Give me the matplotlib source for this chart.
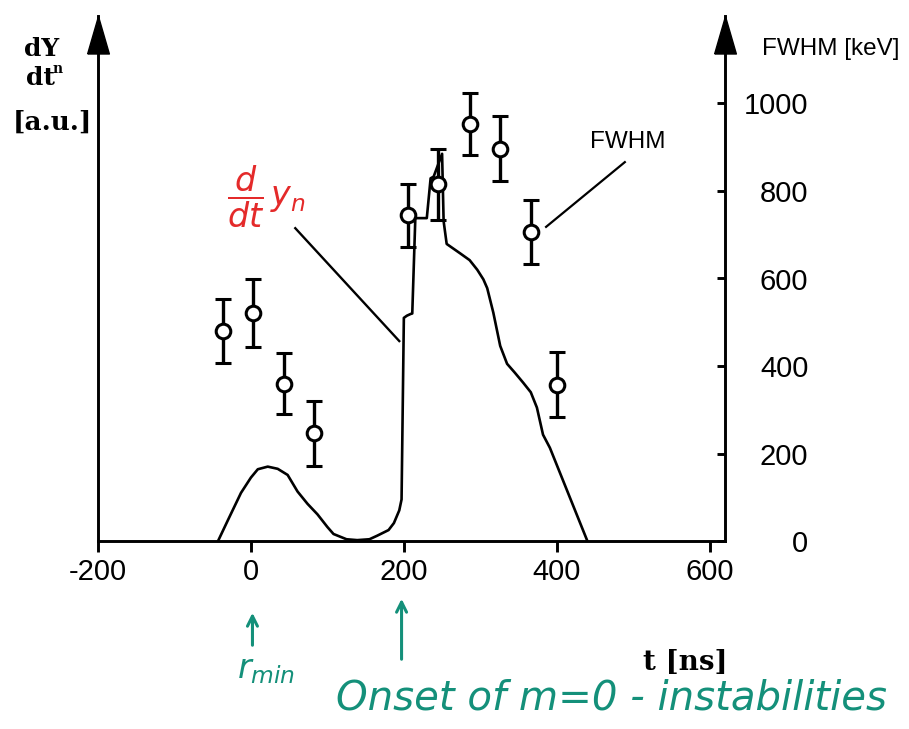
import matplotlib
matplotlib.use("Agg")
import matplotlib.pyplot as plt
import numpy as np

# ---- data -------------------------------------------------------------
# FWHM of the neutron spectrum (keV) with error bars
t_fwhm = [-37, 3, 43, 83, 206, 245, 286, 326, 366, 400]
fwhm = [480, 521, 360, 246, 745, 815, 953, 897, 707, 357]
fwhm_err = [74, 78, 69, 74, 72, 82, 70, 75, 73, 74]

# neutron yield rate dY/dt (arbitrary units)
t_yield = [-43, -30, -13, 0, 9, 22, 35, 48, 61, 74, 87, 100, 108, 125, 139,
           155, 165, 180, 187, 194, 197, 200, 204, 209, 211, 215, 230, 235,
           239, 250, 252, 256, 265, 274, 286, 296, 304, 309, 317, 326, 335,
           345, 356, 366, 374, 382, 391, 440]
yield_rate = [0.0, 0.48, 1.10, 1.45, 1.64, 1.70, 1.65, 1.51, 1.13, 0.85, 0.61,
              0.32, 0.16, 0.04, 0.02, 0.04, 0.12, 0.25, 0.41, 0.70, 0.95,
              5.10, 5.15, 5.19, 5.20, 7.38, 7.38, 8.29, 8.33, 8.85, 7.31,
              6.79, 6.68, 6.57, 6.42, 6.20, 5.98, 5.78, 5.22, 4.46, 4.05,
              3.85, 3.62, 3.40, 3.05, 2.43, 2.13, 0.0]

x_ticks = [-200, 0, 200, 400, 600]
x_ticklabels = ["-200", "0", "200", "400", "600"]
fwhm_ticks = [0, 200, 400, 600, 800, 1000]
fwhm_ticklabels = ["0", "200", "400", "600", "800", "1000"]

# ---- figure -----------------------------------------------------------
W, H = 909, 729
fig = plt.figure(figsize=(W / 100, H / 100), dpi=100)
fig.patch.set_facecolor("white")


def fx(px):
    return px / W


def fy(py):
    return 1 - py / H


ax = fig.add_axes([fx(98), fy(541), fx(725) - fx(98), fy(16) - fy(541)])
ax2 = ax.twinx()

ax.set_xlim(-200, 620)
ax.set_ylim(0, 12)
ax2.set_ylim(0, 1200)

LW = 2.1
for a in (ax, ax2):
    a.patch.set_visible(False)
    a.spines["top"].set_visible(False)
    for s in ("left", "right", "bottom"):
        a.spines[s].set_linewidth(LW)
ax.spines["right"].set_visible(False)
ax2.spines["left"].set_visible(False)
ax2.spines["bottom"].set_visible(False)

tick_font = dict(family="Liberation Sans", size=21)

ax.set_yticks([])
ax.set_xticks(x_ticks)
ax.set_xticklabels(x_ticklabels, **tick_font)
ax.tick_params(axis="x", direction="out", length=8, width=LW, pad=4)

ax2.set_yticks(fwhm_ticks)
ax2.set_yticklabels(fwhm_ticklabels, ha="right", **tick_font)
ax2.tick_params(axis="y", direction="in", length=6, width=LW, pad=60)

# arrow heads on the two vertical axes
head = [(-0.29, -1.0), (0.29, -1.0), (0.0, 0.0), (-0.29, -1.0)]
for xa in (0.0, 1.0):
    ax.plot([xa], [1.0], marker=head, markersize=54, color="black",
            transform=ax.transAxes, clip_on=False, zorder=10)

# yield rate curve
ax.plot(t_yield, yield_rate, color="black", lw=1.9, zorder=3)

# FWHM points with error bars
ax2.errorbar(t_fwhm, fwhm, yerr=fwhm_err, fmt="o", color="black",
             mfc="white", mec="black", mew=2.2, ms=10.5, elinewidth=2.4,
             capsize=5.5, capthick=2.4, zorder=5)

# labels of the curves with leader lines
ax2.plot([489, 386], [866, 718], color="black", lw=1.6)
ax2.text(493, 912, "FWHM", ha="center", va="center", fontsize=17.5,
         family="Liberation Sans")

ax2.plot([58, 194], [715, 457], color="black", lw=1.7)
ax2.text(20, 786, r"$\dfrac{d}{dt}\,y_n$", ha="center", va="center",
         fontsize=24, color="#e42a2a")

# axis titles
serif = dict(family="DejaVu Serif", weight="bold", color="black")
fig.text(fx(42), fy(49), "dY", ha="center", va="center", fontsize=18, **serif)
fig.text(fx(40), fy(78), "dt", ha="center", va="center", fontsize=18, **serif)
fig.text(fx(58), fy(69), "n", ha="center", va="center", fontsize=10, **serif)
fig.text(fx(52), fy(122), "[a.u.]", ha="center", va="center", fontsize=19,
         **serif)
fig.text(fx(685), fy(663), "t [ns]", ha="center", va="center", fontsize=20,
         **serif)
fig.text(fx(762), fy(49), "FWHM [keV]", ha="left", va="center", fontsize=17.5,
         family="Liberation Sans")

# markers for r_min and the onset of the m=0 instabilities
green = "#14907a"
arrow = dict(arrowstyle="->", color=green, lw=2.2, mutation_scale=18)
ax.annotate("", xy=(2, fy(610)), xytext=(2, fy(648)),
            xycoords=("data", "figure fraction"),
            textcoords=("data", "figure fraction"), arrowprops=arrow,
            annotation_clip=False)
ax.annotate("", xy=(197, fy(596)), xytext=(197, fy(662)),
            xycoords=("data", "figure fraction"),
            textcoords=("data", "figure fraction"), arrowprops=arrow,
            annotation_clip=False)
fig.text(fx(266), fy(670), r"$r_{min}$", ha="center", va="center",
         fontsize=24, color=green)
fig.text(fx(611), fy(698), "Onset of m=0 - instabilities", ha="center",
         va="center", fontsize=29, color=green, family="DejaVu Sans",
         style="italic")

fig.savefig("out.png", dpi=100)
